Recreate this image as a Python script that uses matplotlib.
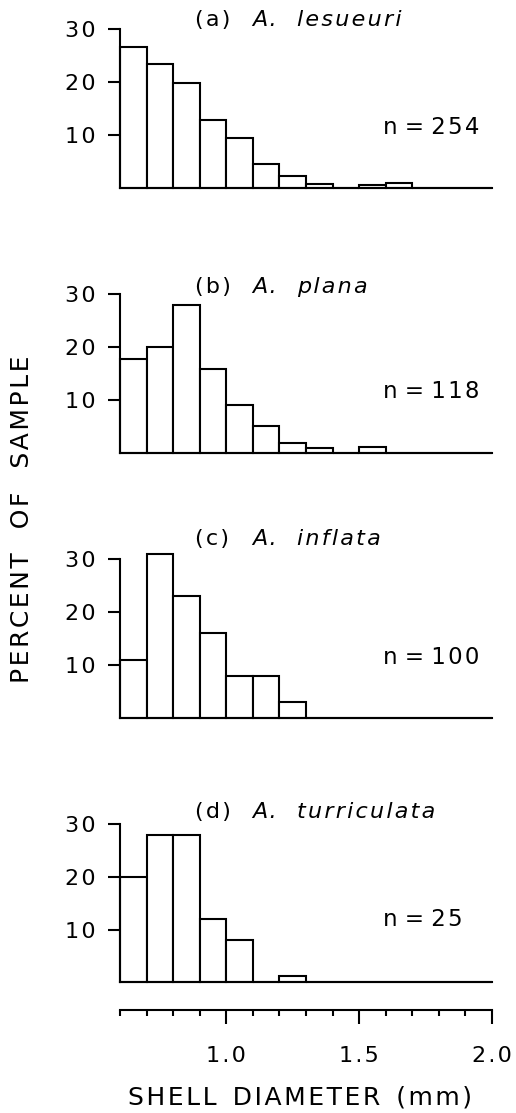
import matplotlib
matplotlib.use("Agg")
import matplotlib.pyplot as plt
from matplotlib.ticker import FixedLocator, MultipleLocator, NullFormatter

# ---- data (percent of sample per 0.1 mm shell-diameter class) ----
bin_left = [0.6, 0.7, 0.8, 0.9, 1.0, 1.1, 1.2, 1.3, 1.4, 1.5, 1.6, 1.7, 1.8, 1.9]
bin_width = 0.1
pct_lesueuri = [26.7, 23.4, 19.9, 12.8, 9.5, 4.6, 2.3, 0.8, 0, 0.6, 1.0, 0, 0, 0]
pct_plana = [17.7, 19.9, 27.9, 15.9, 9.1, 5.1, 1.9, 0.9, 0, 1.1, 0, 0, 0, 0]
pct_inflata = [11, 31, 23, 16, 8, 8, 3, 0, 0, 0, 0, 0, 0, 0]
pct_turriculata = [20, 28, 28, 12, 8, 0, 1.2, 0, 0, 0, 0, 0, 0, 0]

panel_letters = ["(a)", "(b)", "(c)", "(d)"]
species = ["lesueuri", "plana", "inflata", "turriculata"]
sample_sizes = ["n = 254", "n = 118", "n = 100", "n = 25"]
series = [pct_lesueuri, pct_plana, pct_inflata, pct_turriculata]
y_ticks = [10, 20, 30]
x_major = [1.0, 1.5, 2.0]
x_major_labels = ["1.0", "1.5", "2.0"]
x_label = "SHELL DIAMETER (mm)"
y_label = "PERCENT OF SAMPLE"

HAIR = "\u200a"


def track(s, word_gap=" "):
    """Widen letter spacing to mimic the lettering-guide font."""
    words = s.split(" ")
    return (word_gap).join(HAIR.join(w) for w in words)


# ---- layout (pixels) ----
W, H = 516, 1113


def fx(px):
    return px / W


def fy(py):
    return 1 - py / H


plt.rcParams["font.family"] = ["DejaVu Sans"]
fig = plt.figure(figsize=(W / 100, H / 100), dpi=100)

zero_px = [188.3, 452.7, 717.8, 982.3]
top_px = [29.3, 294.0, 559.3, 824.3]
title_px = [20, 287, 539, 812]
ntext_px = [128, 391, 657, 920]
x0_px, x1_px = 120, 492

LW = 1.5
FS_TICK = 16
FS_TITLE = 16
FS_N = 16.5
FS_LABEL = 18

for i in range(4):
    ax = fig.add_axes([fx(x0_px), fy(zero_px[i]), fx(x1_px) - fx(x0_px),
                       (zero_px[i] - top_px[i]) / H])
    ax.bar(bin_left, series[i], width=bin_width, align="edge",
           facecolor="white", edgecolor="black", linewidth=LW, clip_on=False,
           zorder=2)
    ax.set_xlim(0.6, 2.0)
    ax.set_ylim(0, 30)
    for s in ["top", "right"]:
        ax.spines[s].set_visible(False)
    ax.spines["left"].set_linewidth(LW)
    ax.spines["bottom"].set_linewidth(LW)
    ax.spines["left"].set_bounds(0, 30)
    ax.set_xticks([])
    ax.set_yticks(y_ticks)
    ax.set_yticklabels([track(str(t)) for t in y_ticks], fontsize=FS_TICK)
    ax.tick_params(axis="y", direction="out", length=8.6, width=LW, pad=9)
    ax.patch.set_visible(False)

    fig.text(fx(195), fy(title_px[i]), track(panel_letters[i]),
             fontsize=FS_TITLE, ha="left", va="center")
    fig.text(fx(252), fy(title_px[i]), track("A."), fontsize=FS_TITLE,
             style="italic", ha="left", va="center")
    fig.text(fx(297), fy(title_px[i]), track(species[i]), fontsize=FS_TITLE,
             style="italic", ha="left", va="center")
    fig.text(fx(383), fy(ntext_px[i]), track(sample_sizes[i]), fontsize=FS_N,
             ha="left", va="center")

# bottom shared x axis
axx = fig.add_axes([fx(x0_px), fy(1010), fx(x1_px) - fx(x0_px), 0.01])
axx.set_xlim(0.6, 2.0)
axx.set_ylim(0, 1)
for s in ["top", "right", "left"]:
    axx.spines[s].set_visible(False)
axx.spines["bottom"].set_linewidth(LW)
axx.set_yticks([])
axx.xaxis.set_major_locator(FixedLocator(x_major))
axx.set_xticklabels([track(t) for t in x_major_labels], fontsize=FS_TICK)
axx.xaxis.set_minor_locator(MultipleLocator(0.1))
axx.xaxis.set_minor_formatter(NullFormatter())
axx.tick_params(axis="x", which="major", direction="out", length=10,
                width=LW, pad=16)
axx.tick_params(axis="x", which="minor", direction="out", length=4.3,
                width=LW)
axx.patch.set_visible(False)

fig.text(fx(300), fy(1097), track(x_label, "  "), fontsize=FS_LABEL,
         ha="center", va="center")
fig.text(fx(22), fy(519), track(y_label, "   "), fontsize=FS_LABEL,
         rotation=90, ha="center", va="center")

fig.savefig("out.png", dpi=100)
